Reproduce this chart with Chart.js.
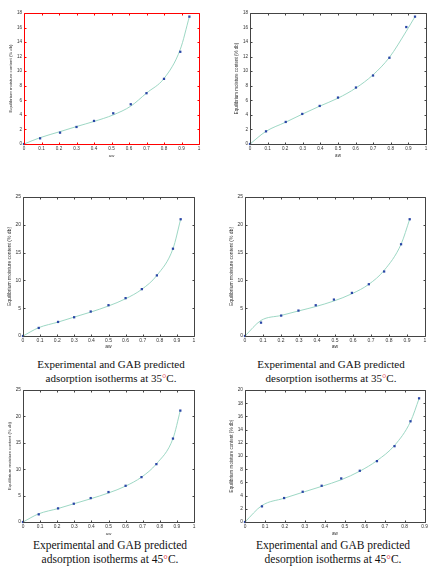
<!DOCTYPE html>
<html>
<head>
<meta charset="utf-8">
<script src="https://cdn.jsdelivr.net/npm/chart.js@4/dist/chart.umd.min.js"></script>
<style>
  body { margin: 0; background: #fff; width: 435px; height: 571px; position: relative; overflow: hidden; }
  canvas { position: absolute; }
  .cap { position: absolute; width: 200px; text-align: center; font-family: "Liberation Serif", "Times New Roman", serif; color: #111; line-height: 13.5px; }
  .cap span { color: #e0505e; }
</style>
</head>
<body>
<canvas id="c1"></canvas>
<canvas id="c2"></canvas>
<canvas id="c3"></canvas>
<canvas id="c4"></canvas>
<canvas id="c5"></canvas>
<canvas id="c6"></canvas>
<div class="cap" style="left:11px; top:358px; font-size:11px;">Experimental and GAB predicted<br>adsorption isotherms at 35<span>°</span>C.</div>
<div class="cap" style="left:231px; top:358px; font-size:11px;">Experimental and GAB predicted<br>desorption isotherms at 35<span>°</span>C.</div>
<div class="cap" style="left:10px; top:539px; font-size:11.5px;">Experimental and GAB predicted<br>adsorption isotherms at 45<span>°</span>C.</div>
<div class="cap" style="left:233px; top:539px; font-size:11.5px;">Experimental and GAB predicted<br>desorption isotherms at 45<span>°</span>C.</div>
<script>
const aw1 = [0, 0.092, 0.206, 0.30, 0.40, 0.51, 0.61, 0.70, 0.80, 0.893, 0.945];
const emc1 = [0, 0.78, 1.56, 2.34, 3.17, 4.22, 5.46, 6.98, 8.95, 12.67, 17.5];
const gab1 = [0, 0.87, 1.7, 2.4, 3.1, 4.0, 5.2, 7.0, 9.0, 13.0, 17.5];

const aw2 = [0, 0.091, 0.203, 0.297, 0.396, 0.5, 0.602, 0.699, 0.792, 0.888, 0.9375];
const emc2 = [0, 1.74, 3.03, 4.13, 5.23, 6.38, 7.76, 9.41, 11.85, 16.07, 17.5];
const gab2 = [0, 1.74, 3.0, 4.1, 5.2, 6.3, 7.7, 9.5, 11.9, 15.5, 17.5];

const aw3 = [0, 0.092, 0.205, 0.299, 0.396, 0.5, 0.6, 0.695, 0.783, 0.877, 0.922];
const emc3 = [0, 1.45, 2.53, 3.37, 4.40, 5.54, 6.81, 8.43, 10.9, 15.7, 21.0];
const gab3 = [0, 1.5, 2.5, 3.4, 4.3, 5.4, 6.7, 8.4, 10.9, 15.7, 21.0];

const aw4 = [0, 0.089, 0.201, 0.297, 0.393, 0.494, 0.594, 0.688, 0.773, 0.867, 0.915];
const emc4 = [0, 2.4, 3.67, 4.57, 5.53, 6.55, 7.75, 9.31, 11.6, 16.5, 21.0];
const gab4 = [0, 2.8, 3.7, 4.5, 5.3, 6.3, 7.6, 9.3, 11.8, 16.5, 21.0];

const aw5 = [0, 0.092, 0.205, 0.297, 0.396, 0.5, 0.6, 0.693, 0.78, 0.877, 0.92];
const emc5 = [0, 1.45, 2.58, 3.46, 4.53, 5.67, 6.86, 8.5, 10.96, 15.8, 21.1];
const gab5 = [0, 1.55, 2.55, 3.45, 4.4, 5.5, 6.8, 8.5, 11.0, 15.8, 21.1];

const aw6 = [0, 0.085, 0.196, 0.289, 0.384, 0.482, 0.575, 0.661, 0.749, 0.829, 0.872];
const emc6 = [0, 2.37, 3.63, 4.58, 5.49, 6.6, 7.76, 9.22, 11.49, 15.26, 18.74];
const gab6 = [0, 2.5, 3.6, 4.5, 5.4, 6.4, 7.7, 9.3, 11.6, 15.2, 18.7];

// tick labels
const xTicks10 = [0, 0.1, 0.2, 0.3, 0.4, 0.5, 0.6, 0.7, 0.8, 0.9, 1];
const xTicks09 = [0, 0.1, 0.2, 0.3, 0.4, 0.5, 0.6, 0.7, 0.8, 0.9];
const yTicks18 = [0, 2, 4, 6, 8, 10, 12, 14, 16, 18];
const yTicks20 = [0, 2, 4, 6, 8, 10, 12, 14, 16, 18, 20];
const yTicks25 = [0, 5, 10, 15, 20, 25];

const xTitle = 'aw';
const yTitle = 'Equilibrium moisture content (% db)';

// matlab style box: frame plus short inward ticks on all four sides
const boxTicks = {
  id: 'boxTicks',
  afterDatasetsDraw(chart) {
    const { ctx, chartArea: a, scales } = chart;
    const l = Math.round(a.left) + 0.5, r = Math.round(a.right) + 0.5;
    const t = Math.round(a.top) + 0.5, b = Math.round(a.bottom) + 0.5;
    ctx.save();
    ctx.globalCompositeOperation = 'source-over';
    ctx.globalAlpha = 1;
    ctx.setLineDash([]);
    ctx.strokeStyle = chart.canvas.id === 'c1' ? '#ff0000' : '#444444';
    ctx.lineWidth = 1;
    ctx.beginPath();
    ctx.rect(l, t, r - l, b - t);
    scales.x.ticks.forEach((tk, i) => {
      const px = Math.round(scales.x.getPixelForTick(i)) + 0.5;
      ctx.moveTo(px, b); ctx.lineTo(px, b - 2);
      ctx.moveTo(px, t); ctx.lineTo(px, t + 2);
    });
    scales.y.ticks.forEach((tk, i) => {
      const py = Math.round(scales.y.getPixelForTick(i)) + 0.5;
      ctx.moveTo(l, py); ctx.lineTo(l + 2, py);
      ctx.moveTo(r, py); ctx.lineTo(r - 2, py);
    });
    ctx.stroke();
    ctx.restore();
  }
};

function makePanel(id, box, aw, emc, gab, xTicks, yTicks, tickSize, titleSize) {
  const [L, T, R, B] = box;
  const cv = document.getElementById(id);
  const w = R - L + 23, h = B - T + 19;
  cv.width = w; cv.height = h;
  cv.style.left = (L - 18) + 'px';
  cv.style.top = (T - 5) + 'px';
  cv.style.width = w + 'px';
  cv.style.height = h + 'px';

  new Chart(cv, {
    type: 'scatter',
    data: {
      datasets: [
        {
          data: aw.map((x, i) => ({ x: x, y: emc[i] })),
          pointStyle: 'rect',
          pointRadius: 1.6,
          backgroundColor: '#2a46a6',
          borderColor: '#2a46a6',
          borderWidth: 0,
          showLine: false,
          clip: false
        },
        {
          data: aw.map((x, i) => ({ x: x, y: gab[i] })),
          showLine: true,
          borderColor: '#92d3bd',
          borderWidth: 0.9,
          pointRadius: 0,
          cubicInterpolationMode: 'monotone',
          clip: false
        }
      ]
    },
    options: {
      responsive: false,
      animation: false,
      events: [],
      layout: { padding: { left: 2, top: 5, right: 5, bottom: 0 } },
      plugins: { legend: { display: false }, tooltip: { enabled: false } },
      scales: {
        x: {
          type: 'linear',
          min: xTicks[0],
          max: xTicks[xTicks.length - 1],
          afterBuildTicks: s => { s.ticks = xTicks.map(v => ({ value: v })); },
          afterFit: s => { s.height = 14; },
          grid: { display: false, drawTicks: false },
          border: { display: false },
          ticks: {
            autoSkip: false, maxRotation: 0, padding: 2,
            color: '#333', font: { family: 'Liberation Sans', size: tickSize },
            callback: v => String(v)
          },
          title: { display: true, text: xTitle, color: '#333', padding: 0, font: { family: 'Liberation Sans', size: titleSize } }
        },
        y: {
          type: 'linear',
          min: yTicks[0],
          max: yTicks[yTicks.length - 1],
          afterBuildTicks: s => { s.ticks = yTicks.map(v => ({ value: v })); },
          afterFit: s => { s.width = 16; },
          grid: { display: false, drawTicks: false },
          border: { display: false },
          ticks: {
            autoSkip: false, padding: 2,
            color: '#333', font: { family: 'Liberation Sans', size: tickSize },
            callback: v => String(v)
          },
          title: { display: true, text: yTitle, color: '#333', padding: 0, font: { family: 'Liberation Sans', size: titleSize } }
        }
      }
    },
    plugins: [boxTicks]
  });
}

makePanel('c1', [24, 13, 199, 144], aw1, emc1, gab1, xTicks10, yTicks18, 4.6, 4.3);
makePanel('c2', [250, 13, 426, 144], aw2, emc2, gab2, xTicks10, yTicks18, 4.6, 4.5);
makePanel('c3', [23, 197, 194, 336], aw3, emc3, gab3, xTicks10, yTicks25, 5, 5);
makePanel('c4', [245, 197, 425, 336], aw4, emc4, gab4, xTicks10, yTicks25, 5, 5);
makePanel('c5', [23, 390, 194, 522], aw5, emc5, gab5, xTicks10, yTicks25, 4.8, 4.3);
makePanel('c6', [245, 390, 425, 522], aw6, emc6, gab6, xTicks09, yTicks20, 4.8, 4.6);
</script>
</body>
</html>
